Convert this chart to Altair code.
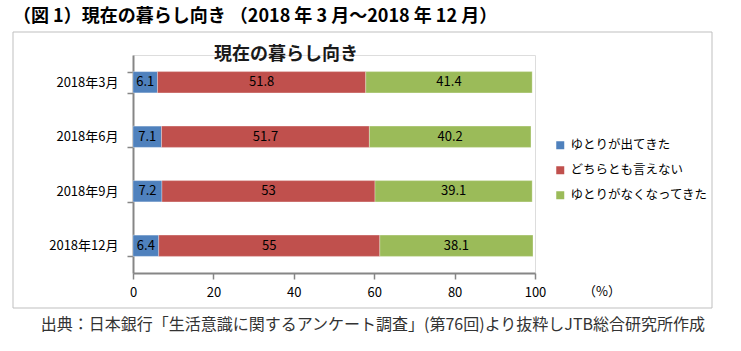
import altair as alt
import pandas as pd

months = ["2018年3月", "2018年6月", "2018年9月", "2018年12月"]
cats = ["ゆとりが出てきた", "どちらとも言えない", "ゆとりがなくなってきた"]
blue = [6.1, 7.1, 7.2, 6.4]
red = [51.8, 51.7, 53, 55]
green = [41.4, 40.2, 39.1, 38.1]
colors = ["#4F81BD", "#C0504D", "#9BBB59"]
x_ticks = [0, 20, 40, 60, 80, 100]

main_title = "（図 1）現在の暮らし向き （2018 年 3 月～2018 年 12 月）"
chart_title = "現在の暮らし向き"
source = "出典：日本銀行「生活意識に関するアンケート調査」(第76回)より抜粋しJTB総合研究所作成"
unit = "（%）"

rows = []
for series_idx, (cat, vals) in enumerate(zip(cats, [blue, red, green])):
    for m, v in zip(months, vals):
        rows.append({"month": m, "cat": cat, "value": v, "idx": series_idx})
df = pd.DataFrame(rows)

FONT = "Noto Sans CJK JP"
W, H = 402, 218

yenc = alt.Y(
    "month:N", sort=months, title=None,
    scale=alt.Scale(paddingInner=0.61, paddingOuter=0.305),
    axis=alt.Axis(
        domainColor="#868686", domainWidth=2, tickColor="#868686", tickWidth=1.5,
        tickSize=6, tickBand="extent", labelFontSize=13, labelFont=FONT,
        labelColor="#000000", labelPadding=9,
    ),
)
xenc = alt.X(
    "value:Q", stack="zero", title=None,
    scale=alt.Scale(domain=[0, 100], nice=False),
    axis=alt.Axis(
        values=x_ticks, domainColor="#868686", domainWidth=2, tickColor="#868686",
        tickWidth=1.5, tickSize=6, grid=False, labelFontSize=13, labelFont=FONT,
        labelColor="#000000", labelPadding=7, labelFlush=False, labelOverlap=False,
    ),
)

bars = alt.Chart(df).mark_bar(stroke="#ffffff", strokeWidth=0.6, strokeOpacity=0.5).encode(
    y=yenc,
    x=xenc,
    color=alt.Color(
        "cat:N", sort=cats,
        scale=alt.Scale(domain=cats, range=colors),
        legend=alt.Legend(
            title=None, orient="none", legendX=421, legendY=84,
            symbolType="square", symbolSize=64, symbolStrokeWidth=0,
            labelFontSize=12.5, labelFont=FONT, labelColor="#000000",
            rowPadding=12, labelOffset=4,
        ),
    ),
    order=alt.Order("idx:Q"),
)

labels = alt.Chart(df).transform_stack(
    stack="value", groupby=["month"], as_=["v0", "v1"], sort=[alt.SortField("idx")]
).transform_calculate(mid="(datum.v0 + datum.v1) / 2").mark_text(
    fontSize=13, font=FONT, color="#000000"
).encode(
    y=alt.Y("month:N", sort=months),
    x=alt.X("mid:Q"),
    text=alt.Text("value:Q"),
)

one = alt.Data(values=[{"k": 1}])

frame = alt.Chart(one).mark_rect(fill=None, stroke="#bfbfbf", strokeWidth=1).encode(
    x=alt.value(-120), x2=alt.value(579), y=alt.value(-23), y2=alt.value(253)
)

t_main = alt.Chart(one).mark_text(
    text=main_title, fontSize=18, fontWeight="bold", font=FONT, align="left",
    baseline="middle", color="#000000"
).encode(x=alt.value(-120), y=alt.value(-38))

t_chart = alt.Chart(one).mark_text(
    text=chart_title, fontSize=18, fontWeight="bold", font=FONT, align="center",
    baseline="middle", color="#1a1a1a"
).encode(x=alt.value(153), y=alt.value(0))

t_unit = alt.Chart(one).mark_text(
    text=unit, fontSize=13, font=FONT, align="center", baseline="middle", color="#000000"
).encode(x=alt.value(469), y=alt.value(19 + H))

t_source = alt.Chart(one).mark_text(
    text=source, fontSize=16, font=FONT, align="right", baseline="middle", color="#333333"
).encode(x=alt.value(572), y=alt.value(270))

chart = alt.layer(frame, bars, labels, t_main, t_chart, t_unit, t_source).properties(
    width=W, height=H,
    autosize="none",
    padding={"left": 133, "top": 55, "right": 741 - 133 - W, "bottom": 351 - 55 - H},
).configure_view(stroke=None).configure(background="#ffffff")

chart.save("out.html", embed_options={"renderer": "svg", "actions": False})
